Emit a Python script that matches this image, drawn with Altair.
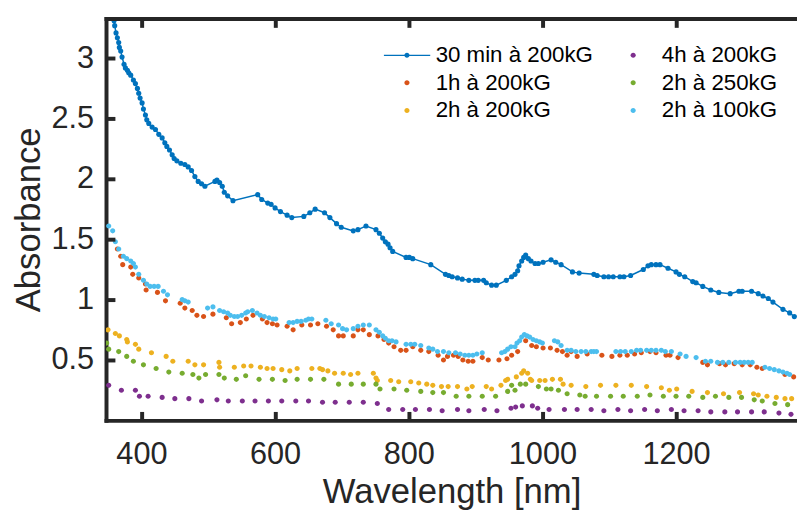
import altair as alt
import pandas as pd

NAMES = ["30 min à 200kG", "1h à 200kG", "2h à 200kG", "4h à 200kG", "2h à 250kG", "2h à 100kG"]
COLORS = ["#0072BD", "#D95319", "#EDB120", "#7E2F8E", "#77AC30", "#4DBEEE"]

# (wavelength nm, absorbance)
s1 = [(357, 3.35), (359, 3.31), (360, 3.27), (362, 3.21), (364, 3.17), (366, 3.13), (367, 3.09), (369, 3.06), (371, 3.01),
      (374, 2.95), (376, 2.92), (379, 2.90), (381, 2.88), (384, 2.86), (388, 2.82), (391, 2.79), (394, 2.75), (396, 2.71),
      (398, 2.67), (401, 2.63), (403, 2.58), (406, 2.53), (408, 2.49), (411, 2.46), (416, 2.43), (421, 2.41), (426, 2.37),
      (431, 2.34), (435, 2.30), (438, 2.27), (442, 2.24), (446, 2.20), (449, 2.17), (453, 2.15), (459, 2.13), (465, 2.12),
      (470, 2.10), (475, 2.07), (480, 2.02), (485, 1.98), (490, 1.96), (495, 1.94), (510, 1.98), (513, 1.99), (517, 1.97),
      (521, 1.94), (524, 1.89), (529, 1.86), (537, 1.82), (574, 1.87), (580, 1.83), (589, 1.80), (594, 1.79), (600, 1.76),
      (608, 1.73), (618, 1.70), (625, 1.68), (643, 1.69), (652, 1.72), (660, 1.75), (674, 1.72), (682, 1.68), (692, 1.63),
      (699, 1.60), (717, 1.57), (724, 1.58), (736, 1.61), (751, 1.58), (756, 1.55), (761, 1.51), (765, 1.48), (769, 1.46),
      (772, 1.43), (776, 1.40), (796, 1.35), (801, 1.35), (806, 1.34), (833, 1.29), (855, 1.21), (860, 1.20), (865, 1.19),
      (873, 1.18), (880, 1.17), (890, 1.16), (899, 1.16), (904, 1.16), (912, 1.16), (916, 1.14), (924, 1.12), (931, 1.12),
      (946, 1.16), (954, 1.19), (959, 1.21), (963, 1.24), (965, 1.28), (969, 1.32), (972, 1.35), (975, 1.37), (979, 1.34),
      (983, 1.32), (989, 1.30), (994, 1.30), (1001, 1.31), (1013, 1.33), (1020, 1.31), (1028, 1.29), (1045, 1.23),
      (1055, 1.22), (1077, 1.21), (1082, 1.20), (1092, 1.19), (1099, 1.19), (1106, 1.19), (1116, 1.19), (1122, 1.19),
      (1132, 1.20), (1151, 1.25), (1158, 1.28), (1163, 1.29), (1170, 1.29), (1176, 1.29), (1188, 1.26), (1200, 1.23),
      (1205, 1.21), (1213, 1.19), (1225, 1.15), (1230, 1.14), (1240, 1.11), (1252, 1.08), (1264, 1.06), (1281, 1.05),
      (1294, 1.07), (1299, 1.07), (1313, 1.07), (1323, 1.05), (1330, 1.03), (1338, 1.01), (1345, 0.98), (1360, 0.92),
      (1370, 0.89), (1377, 0.86)]

s2 = [(364, 1.42), (369, 1.36), (372, 1.29), (384, 1.27), (387, 1.21), (396, 1.18), (406, 1.13), (407, 1.08), (424, 1.06),
      (436, 0.99), (458, 0.97), (465, 0.93), (476, 0.91), (483, 0.87), (493, 0.86), (507, 0.88), (527, 0.85), (535, 0.80),
      (548, 0.81), (557, 0.84), (567, 0.87), (581, 0.84), (588, 0.81), (596, 0.80), (603, 0.79), (618, 0.78), (627, 0.75),
      (640, 0.79), (653, 0.79), (664, 0.80), (677, 0.78), (687, 0.75), (695, 0.70), (702, 0.70), (717, 0.70), (724, 0.75),
      (732, 0.75), (741, 0.71), (754, 0.70), (763, 0.67), (770, 0.64), (778, 0.61), (788, 0.58), (796, 0.58), (806, 0.61),
      (818, 0.58), (830, 0.57), (844, 0.54), (852, 0.50), (858, 0.53), (867, 0.54), (874, 0.53), (881, 0.50), (889, 0.49),
      (896, 0.49), (910, 0.52), (919, 0.50), (935, 0.50), (947, 0.51), (954, 0.54), (963, 0.57), (975, 0.66), (984, 0.62),
      (991, 0.61), (1001, 0.60), (1012, 0.60), (1022, 0.58), (1030, 0.57), (1037, 0.54), (1043, 0.57), (1052, 0.53),
      (1067, 0.55), (1089, 0.54), (1104, 0.53), (1116, 0.54), (1127, 0.54), (1138, 0.55), (1148, 0.56), (1161, 0.57),
      (1170, 0.56), (1185, 0.54), (1191, 0.54), (1203, 0.52), (1240, 0.48), (1247, 0.46), (1265, 0.47), (1274, 0.46),
      (1287, 0.47), (1299, 0.46), (1311, 0.46), (1321, 0.44), (1329, 0.43), (1363, 0.38), (1376, 0.36)]

s3 = [(350, 0.75), (361, 0.72), (367, 0.70), (378, 0.67), (379, 0.65), (391, 0.63), (396, 0.59), (415, 0.56), (437, 0.53),
      (447, 0.49), (470, 0.49), (480, 0.46), (493, 0.46), (516, 0.48), (517, 0.44), (539, 0.44), (553, 0.45), (564, 0.45),
      (578, 0.44), (588, 0.43), (597, 0.43), (610, 0.42), (622, 0.41), (633, 0.43), (655, 0.43), (667, 0.43), (671, 0.42),
      (679, 0.41), (689, 0.39), (702, 0.39), (713, 0.38), (724, 0.39), (747, 0.39), (751, 0.35), (753, 0.33), (773, 0.33),
      (785, 0.32), (803, 0.32), (815, 0.31), (827, 0.30), (836, 0.29), (849, 0.28), (859, 0.28), (873, 0.28), (887, 0.26),
      (895, 0.28), (916, 0.28), (924, 0.26), (938, 0.29), (945, 0.33), (948, 0.34), (961, 0.36), (969, 0.39), (972, 0.41),
      (978, 0.39), (982, 0.34), (984, 0.33), (996, 0.33), (1004, 0.33), (1015, 0.34), (1027, 0.34), (1031, 0.30),
      (1043, 0.29), (1065, 0.28), (1087, 0.29), (1110, 0.29), (1133, 0.29), (1156, 0.28), (1178, 0.27), (1190, 0.25),
      (1201, 0.26), (1224, 0.24), (1247, 0.23), (1271, 0.22), (1295, 0.23), (1316, 0.22), (1323, 0.21), (1336, 0.20),
      (1350, 0.19), (1363, 0.18), (1373, 0.18)]

s4 = [(351, 0.29), (370, 0.25), (391, 0.25), (397, 0.20), (410, 0.20), (431, 0.19), (450, 0.18), (471, 0.18), (490, 0.16),
      (513, 0.17), (530, 0.16), (551, 0.16), (570, 0.16), (590, 0.16), (610, 0.16), (631, 0.16), (650, 0.16), (671, 0.15),
      (690, 0.15), (711, 0.15), (732, 0.15), (753, 0.14), (770, 0.09), (791, 0.09), (810, 0.09), (831, 0.09), (850, 0.08),
      (873, 0.09), (890, 0.08), (913, 0.09), (932, 0.08), (953, 0.10), (960, 0.11), (970, 0.12), (985, 0.12), (993, 0.10),
      (1010, 0.09), (1033, 0.09), (1052, 0.09), (1073, 0.09), (1092, 0.08), (1113, 0.09), (1132, 0.08), (1153, 0.09),
      (1172, 0.08), (1193, 0.09), (1212, 0.08), (1233, 0.08), (1252, 0.07), (1273, 0.07), (1292, 0.07), (1313, 0.07),
      (1332, 0.07), (1354, 0.06), (1372, 0.05)]

s5 = [(348, 0.64), (351, 0.59), (366, 0.57), (378, 0.53), (388, 0.49), (403, 0.46), (422, 0.43), (441, 0.40), (461, 0.39),
      (477, 0.38), (486, 0.35), (496, 0.38), (516, 0.38), (524, 0.35), (542, 0.34), (556, 0.37), (576, 0.34), (596, 0.34),
      (615, 0.33), (633, 0.34), (653, 0.34), (673, 0.34), (695, 0.30), (714, 0.30), (732, 0.30), (751, 0.30), (757, 0.26),
      (778, 0.26), (797, 0.25), (818, 0.24), (836, 0.23), (852, 0.23), (871, 0.20), (890, 0.20), (910, 0.20), (930, 0.20),
      (948, 0.24), (954, 0.29), (959, 0.25), (967, 0.30), (975, 0.30), (994, 0.28), (1006, 0.26), (1013, 0.26),
      (1024, 0.25), (1037, 0.22), (1056, 0.21), (1064, 0.20), (1081, 0.20), (1102, 0.20), (1121, 0.20), (1142, 0.20),
      (1161, 0.21), (1181, 0.20), (1200, 0.20), (1219, 0.20), (1240, 0.19), (1259, 0.20), (1279, 0.19), (1298, 0.19),
      (1317, 0.17), (1329, 0.16), (1348, 0.14), (1367, 0.13)]

s6 = [(351, 1.61), (357, 1.57), (361, 1.48), (366, 1.42), (373, 1.36), (378, 1.34), (384, 1.32), (388, 1.30), (391, 1.27),
      (396, 1.21), (403, 1.16), (408, 1.13), (413, 1.11), (419, 1.11), (425, 1.11), (433, 1.07), (439, 1.04), (461, 1.00),
      (465, 0.99), (470, 0.98), (499, 0.93), (507, 0.94), (517, 0.91), (523, 0.90), (529, 0.89), (533, 0.87), (539, 0.86),
      (544, 0.86), (550, 0.87), (556, 0.89), (559, 0.90), (566, 0.91), (573, 0.89), (578, 0.87), (584, 0.86), (591, 0.85),
      (597, 0.84), (601, 0.84), (621, 0.81), (627, 0.81), (633, 0.82), (639, 0.82), (646, 0.83), (650, 0.84), (655, 0.84),
      (676, 0.83), (684, 0.80), (695, 0.79), (701, 0.76), (707, 0.75), (717, 0.76), (724, 0.78), (732, 0.79), (741, 0.79),
      (751, 0.75), (756, 0.73), (761, 0.70), (765, 0.68), (770, 0.66), (775, 0.66), (781, 0.65), (796, 0.63), (803, 0.63),
      (809, 0.63), (818, 0.62), (830, 0.60), (836, 0.59), (843, 0.57), (852, 0.57), (860, 0.56), (870, 0.56), (877, 0.55),
      (884, 0.54), (890, 0.54), (896, 0.54), (902, 0.55), (910, 0.56), (939, 0.56), (944, 0.57), (948, 0.59), (953, 0.61),
      (959, 0.61), (962, 0.64), (966, 0.66), (969, 0.69), (973, 0.71), (977, 0.70), (981, 0.69), (986, 0.67), (991, 0.66),
      (996, 0.65), (1000, 0.64), (1018, 0.66), (1023, 0.65), (1028, 0.62), (1037, 0.58), (1043, 0.58), (1050, 0.57),
      (1058, 0.57), (1065, 0.57), (1073, 0.57), (1077, 0.57), (1081, 0.57), (1110, 0.57), (1117, 0.57), (1124, 0.57),
      (1133, 0.57), (1141, 0.58), (1147, 0.58), (1156, 0.58), (1163, 0.58), (1170, 0.58), (1178, 0.58), (1184, 0.57),
      (1193, 0.57), (1206, 0.55), (1215, 0.53), (1230, 0.52), (1244, 0.49), (1252, 0.49), (1262, 0.48), (1270, 0.48),
      (1279, 0.48), (1289, 0.48), (1296, 0.48), (1302, 0.48), (1308, 0.48), (1314, 0.48), (1333, 0.44), (1340, 0.43),
      (1347, 0.42), (1354, 0.41), (1360, 0.40), (1366, 0.39), (1370, 0.38)]

X_TICKS = [400, 600, 800, 1000, 1200]
Y_TICKS = [0.5, 1, 1.5, 2, 2.5, 3]
X_DOMAIN = [347, 1381]
Y_DOMAIN = [0, 3.33]

INK = "#262626"
FONT = "Liberation Sans"
W, H = 698, 406

df1 = pd.DataFrame(s1, columns=["wl", "A"])
df1["series"] = NAMES[0]
parts = []
for name, pts in zip(NAMES[1:], [s2, s3, s4, s5, s6]):
    d = pd.DataFrame(pts, columns=["wl", "A"])
    d["series"] = name
    parts.append(d)
df2 = pd.concat(parts, ignore_index=True)

# legend entries fill column by column: first column s1..s3, second s4..s6
legend_order = NAMES
legend_colors = COLORS
DOT = "M-0.11,0A0.11,0.11 0 1,1 0.11,0A0.11,0.11 0 1,1 -0.11,0Z"
LINE_DOT = "M-1,-0.028H1V0.028H-1Z" + DOT
legend_shapes = [LINE_DOT if n == NAMES[0] else DOT for n in legend_order]

xs = alt.Scale(domain=X_DOMAIN, nice=False, zero=False)
ys = alt.Scale(domain=Y_DOMAIN, nice=False, zero=False)

# axes carrying frame lines, labels and titles
label_style = dict(domainColor=INK, domainWidth=4, domainCap="square", ticks=False, tickSize=0, grid=False,
                   labelColor=INK, labelFont=FONT, labelFontSize=31,
                   titleColor=INK, titleFont=FONT, titleFontSize=35, titleFontWeight="normal")
# axes carrying only the inward-pointing ticks (opposite orient, moved across the plot via offset)
tick_style = dict(domain=False, labels=False, ticks=True, tickSize=9, tickWidth=4, tickColor=INK, grid=False,
                  title=None, zindex=2)

line = alt.Chart(df1).mark_line(color=COLORS[0], strokeWidth=1.5, clip=True).encode(
    x=alt.X("wl:Q", scale=xs, axis=alt.Axis(orient="bottom", values=X_TICKS, format="d", title="Wavelength [nm]",
                                            labelPadding=19.5, titlePadding=5, **label_style)),
    y=alt.Y("A:Q", scale=ys, axis=alt.Axis(orient="left", values=Y_TICKS, format=".2~f", title="Absorbance",
                                           labelPadding=12.5, titlePadding=5, **label_style)),
)

pts1 = alt.Chart(df1).mark_circle(color=COLORS[0], size=27, opacity=1, clip=True).encode(
    x=alt.X("wl:Q", scale=xs, axis=alt.Axis(orient="top", offset=-H, values=X_TICKS, **tick_style)),
    y=alt.Y("A:Q", scale=ys, axis=alt.Axis(orient="right", offset=-W, values=Y_TICKS, **tick_style)),
)

leg = alt.Legend(title=None, orient="none", legendX=280.5, legendY=26, columns=2, columnPadding=16.5,
                 rowPadding=5, clipHeight=22, labelFont=FONT, labelFontSize=22.5, labelColor="#000000",
                 labelLimit=400, labelOffset=5.5, symbolSize=2209, symbolStrokeWidth=0, symbolOpacity=1, padding=0)

pts = alt.Chart(df2).mark_point(filled=True, size=2209, opacity=1, strokeWidth=0, clip=True).encode(
    x=alt.X("wl:Q", scale=xs, axis=alt.Axis(orient="bottom", offset=-H, values=X_TICKS, domain=True,
                                            domainColor=INK, domainWidth=4, domainCap="square", labels=False,
                                            ticks=True, tickSize=9, tickWidth=4, tickColor=INK, grid=False,
                                            title=None, zindex=2)),
    y=alt.Y("A:Q", scale=ys, axis=None),
    color=alt.Color("series:N", scale=alt.Scale(domain=legend_order, range=legend_colors), legend=leg),
    shape=alt.Shape("series:N", scale=alt.Scale(domain=legend_order, range=legend_shapes), legend=leg),
)

chart = alt.layer(line, pts1, pts).resolve_axis(x="independent", y="independent").properties(
    width=W, height=H,
    autosize=alt.AutoSizeParams(type="none"),
    padding={"left": 99, "top": 8, "right": 0, "bottom": 88},
).configure_view(stroke=None).configure(font=FONT)

chart.save("out.html", embed_options={"renderer": "svg", "actions": False})
